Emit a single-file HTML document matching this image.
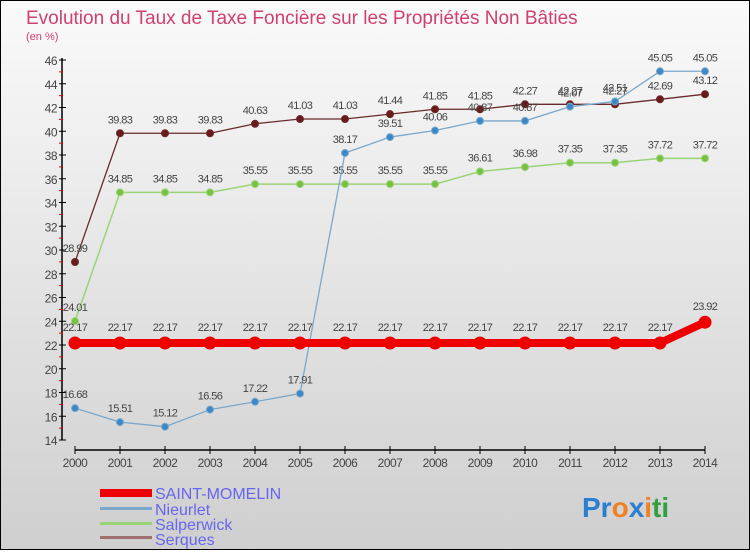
<!DOCTYPE html>
<html><head><meta charset="utf-8"><style>
html,body{margin:0;padding:0}
body{width:750px;height:550px;overflow:hidden;font-family:"Liberation Sans",sans-serif}
</style></head><body>
<svg width="750" height="550" xmlns="http://www.w3.org/2000/svg">
<defs><linearGradient id="bg" x1="0" y1="0" x2="0" y2="1"><stop offset="0" stop-color="#fafafa"/><stop offset="1" stop-color="#cfcfcf"/></linearGradient></defs>
<rect x="0.5" y="0.5" width="749" height="549" fill="url(#bg)" stroke="#000"/>
<text x="26" y="24" font-size="19" fill="#d04070">Evolution du Taux de Taxe Foncière sur les Propriétés Non Bâties</text>
<text x="26" y="40" font-size="11" fill="#d04070">(en %)</text>
<g id="axes"></g>
<g id="series"></g>
<g>
<rect x="100" y="489" width="52" height="8" fill="#e00"/>
<text x="155" y="499" font-size="16" fill="#6666ee">SAINT-MOMELIN</text>
<rect x="100" y="507" width="52" height="3" fill="#7aa8cc"/>
<text x="155" y="515" font-size="16" fill="#6666ee">Nieurlet</text>
<rect x="100" y="522" width="52" height="3" fill="#99d477"/>
<text x="155" y="530" font-size="16" fill="#6666ee">Salperwick</text>
<rect x="100" y="536" width="52" height="3" fill="#a07070"/>
<text x="155" y="545" font-size="16" fill="#6666ee">Serques</text>
</g>
<text x="582" y="517" font-size="28" font-weight="bold"><tspan fill="#2a7fd0">Pr</tspan><tspan fill="#f08020">o</tspan><tspan fill="#2a7fd0">x</tspan><tspan fill="#f08020">i</tspan><tspan fill="#30a040">ti</tspan></text>
</svg>
<script>
const years=[2000,2001,2002,2003,2004,2005,2006,2007,2008,2009,2010,2011,2012,2013,2014];
const yTicks=[14,16,18,20,22,24,26,28,30,32,34,36,38,40,42,44,46];
const saintMomelin=[22.17,22.17,22.17,22.17,22.17,22.17,22.17,22.17,22.17,22.17,22.17,22.17,22.17,22.17,23.92];
const nieurlet=[16.68,15.51,15.12,16.56,17.22,17.91,38.17,39.51,40.06,40.87,40.87,42.07,42.51,45.05,45.05];
const salperwick=[24.01,34.85,34.85,34.85,35.55,35.55,35.55,35.55,35.55,36.61,36.98,37.35,37.35,37.72,37.72];
const serques=[28.99,39.83,39.83,39.83,40.63,41.03,41.03,41.44,41.85,41.85,42.27,42.27,42.27,42.69,43.12];
const NS="http://www.w3.org/2000/svg";
const x=i=>75+i*45;
const y=v=>440-(v-14)*(380/32);
function mk(t,a,p){const e=document.createElementNS(NS,t);for(const k in a)e.setAttribute(k,a[k]);p.appendChild(e);return e;}
const ax=document.getElementById('axes');
let e=mk('line',{x1:62,y1:58,x2:62,y2:440,stroke:'#000','stroke-width':1.5},ax);


e=mk('line',{x1:75,y1:450,x2:705,y2:450,stroke:'#000','stroke-width':1.5},ax);


yTicks.forEach((v,i)=>{
  mk('line',{x1:59,y1:y(v),x2:66,y2:y(v),stroke:'#000'},ax);
  if(i<yTicks.length-1) mk('line',{x1:59,y1:y(v+1),x2:63,y2:y(v+1),stroke:'#e00'},ax);
  const t=mk('text',{x:57,y:y(v)+5,'font-size':12,fill:'#444','text-anchor':'end','letter-spacing':'-0.5'},ax);
  t.textContent=v;
  
  
});
years.forEach((yr,i)=>{
  mk('line',{x1:x(i),y1:446,x2:x(i),y2:454,stroke:'#000'},ax);
  const t=mk('text',{x:x(i),y:467,'font-size':12,fill:'#444','text-anchor':'middle','letter-spacing':'-0.5'},ax);
  t.textContent=yr;
  
  
});
const sg=document.getElementById('series');
function draw(vals,name,line,fill,lw,r,labelDy){
  const g=mk('g',{},sg);
  
  
  const pl=mk('polyline',{points:vals.map((v,i)=>x(i)+','+y(v)).join(' '),fill:'none',stroke:line,'stroke-width':lw},g);
  
  
  vals.forEach((v,i)=>{
    const c=mk('circle',{cx:x(i),cy:y(v),r:r,fill:fill,stroke:line,'stroke-width':1},g);
    
    
    const t=mk('text',{x:x(i),y:y(v)+labelDy,'font-size':11,fill:'#444','text-anchor':'middle','letter-spacing':'-0.6'},g);
    t.textContent=String(v);
    
    
  });
}
draw(serques,'serques','#6a2a2a','#6a1a1a',1.3,3.5,-10);
draw(salperwick,'salperwick','#99d477','#77c040',1.5,3.5,-10);
draw(nieurlet,'nieurlet','#7aa8cc','#3a88c8',1.3,3.5,-10);
draw(saintMomelin,'saint-momelin','#ee0000','#ee0000',8,6,-12);
</script>
</body></html>
